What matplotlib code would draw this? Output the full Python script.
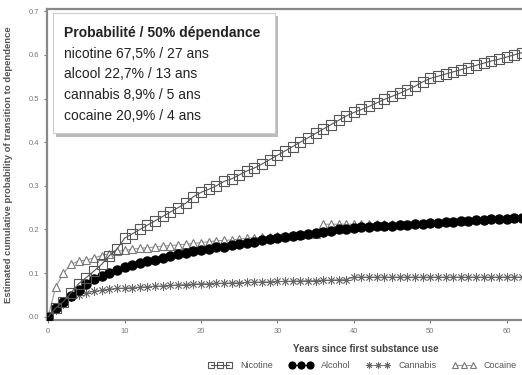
import numpy as np
import matplotlib
matplotlib.use("Agg")
from matplotlib import pyplot as plt
from matplotlib.patches import Rectangle

plt.rcParams['font.family'] = ['Liberation Sans', 'DejaVu Sans']

# years since first use
years = np.arange(0, 63)

nicotine = [0.0, 0.02, 0.035, 0.055, 0.076, 0.09, 0.105, 0.12, 0.14, 0.155,
            0.18, 0.19, 0.20, 0.21, 0.22, 0.23, 0.24, 0.25, 0.26, 0.275,
            0.285, 0.292, 0.30, 0.31, 0.316, 0.325, 0.334, 0.341, 0.35, 0.36,
            0.37, 0.38, 0.39, 0.40, 0.41, 0.42, 0.43, 0.44, 0.45, 0.46,
            0.468, 0.475, 0.482, 0.49, 0.498, 0.505, 0.512, 0.52, 0.528, 0.538,
            0.546, 0.551, 0.556, 0.561, 0.566, 0.571, 0.576, 0.581, 0.586, 0.59,
            0.595, 0.60, 0.605]

alcohol = [0.0, 0.02, 0.033, 0.048, 0.062, 0.076, 0.087, 0.094, 0.10, 0.108,
           0.114, 0.119, 0.123, 0.127, 0.131, 0.135, 0.139, 0.143, 0.147, 0.15,
           0.153, 0.156, 0.159, 0.161, 0.164, 0.166, 0.169, 0.172, 0.175, 0.178,
           0.18, 0.182, 0.185, 0.187, 0.19, 0.192, 0.195, 0.197, 0.20, 0.202,
           0.204, 0.205, 0.206, 0.207, 0.208, 0.209, 0.21, 0.211, 0.212, 0.213,
           0.215, 0.216, 0.217, 0.218, 0.219, 0.22, 0.221, 0.222, 0.223, 0.224,
           0.225, 0.226, 0.227]

cannabis = [0.0, 0.015, 0.03, 0.045, 0.05, 0.055, 0.058, 0.061, 0.063, 0.065,
            0.066, 0.067, 0.068, 0.069, 0.07, 0.071, 0.072, 0.073, 0.074, 0.075,
            0.076, 0.076, 0.077, 0.077, 0.078, 0.078, 0.079, 0.079, 0.08, 0.08,
            0.081, 0.081, 0.082, 0.082, 0.083, 0.083, 0.084, 0.084, 0.085, 0.085,
            0.091, 0.091, 0.091, 0.091, 0.091, 0.091, 0.091, 0.091, 0.091, 0.091,
            0.091, 0.091, 0.091, 0.091, 0.091, 0.091, 0.091, 0.091, 0.091, 0.091,
            0.091, 0.091, 0.091]

cocaine_years = np.arange(0, 47)
cocaine = [0.0, 0.068, 0.10, 0.12, 0.128, 0.13, 0.135, 0.14, 0.145, 0.15,
           0.152, 0.155, 0.157, 0.158, 0.16, 0.162, 0.163, 0.165, 0.166, 0.168,
           0.17, 0.172, 0.174, 0.175, 0.176, 0.178, 0.18, 0.181, 0.182, 0.183,
           0.185, 0.186, 0.187, 0.188, 0.19, 0.19, 0.212, 0.212, 0.212, 0.212,
           0.212, 0.212, 0.212, 0.212, 0.212, 0.212, 0.212]

box_lines = ["nicotine 67,5% / 27 ans", "alcool 22,7% / 13 ans",
             "cannabis 8,9% / 5 ans", "cocaine 20,9% / 4 ans"]

fig = plt.figure(figsize=(5.22, 3.75), dpi=100)
ax = fig.add_axes([0.09, 0.147, 0.91, 0.829])

ax.plot(years, cannabis, color='#888888', lw=0.8, marker=(8, 2, 0), ms=6,
        mew=0.6, mec='#666666', label='Cannabis', zorder=2)
ax.plot(cocaine_years, cocaine, color='#999999', lw=0.8, marker='^', ms=6,
        mfc='white', mec='#777777', mew=0.8, label='Cocaine', zorder=3)
ax.plot(years, alcohol, color='black', lw=0.8, marker='o', ms=6.5,
        mfc='black', mec='black', label='Alcohol', zorder=4)
ax.plot(years, nicotine, color='#555555', lw=0.8, marker='s', ms=6.5,
        mfc='none', mec='#555555', mew=0.8, label='Nicotine', zorder=5)

ax.set_xlim(-0.15, 62)
ax.set_ylim(-0.007, 0.705)
ax.set_xticks([0, 10, 20, 30, 40, 50, 60])
ax.set_yticks(np.arange(0, 0.71, 0.1))
ax.set_yticklabels(['0.0', '0.1', '0.2', '0.3', '0.4', '0.5', '0.6', '0.7'])
ax.tick_params(labelsize=5.5, colors='#777777', length=2, width=0.8)
for s in ['left', 'bottom', 'top']:
    ax.spines[s].set_color('#888888')
    ax.spines[s].set_linewidth(1.6)
ax.spines['right'].set_visible(False)

fig.text(0.016, 0.56, 'Estimated cumulative probability of transition to dependence',
         rotation=90, ha='center', va='center', fontsize=6.8, color='#555555',
         fontweight='bold')
fig.text(0.70, 0.069, 'Years since first substance use', ha='center', va='center',
         fontsize=7, color='#444444', fontweight='bold')

handles, labels = ax.get_legend_handles_labels()
order = [3, 2, 0, 1]
leg = fig.legend([handles[i] for i in order], [labels[i] for i in order],
                 loc='center', bbox_to_anchor=(0.695, 0.024), ncol=4,
                 frameon=False, fontsize=6.5, numpoints=3, markerscale=0.75,
                 handlelength=2.6, columnspacing=1.8, handletextpad=0.9)
for t in leg.get_texts():
    t.set_color('#555555')

# annotation box with shadow
fig.patches.append(Rectangle((56 / 522, 1 - 137 / 375), 222 / 522, 121 / 375,
                             transform=fig.transFigure, facecolor='#bbbbbb',
                             edgecolor='none', zorder=9))
fig.patches.append(Rectangle((53 / 522, 1 - 133 / 375), 222 / 522, 120 / 375,
                             transform=fig.transFigure, facecolor='white',
                             edgecolor='#cccccc', lw=0.8, zorder=10))
fig.text(64 / 522, 1 - 33 / 375, 'Probabilité / 50% dépendance', fontsize=10,
         fontweight='bold', color='#222222', va='center', zorder=11)
for i, line in enumerate(box_lines):
    fig.text(64 / 522, 1 - (54 + 20.5 * i) / 375, line, fontsize=10,
             color='#222222', va='center', zorder=11)

fig.savefig('out.png', dpi=100)
